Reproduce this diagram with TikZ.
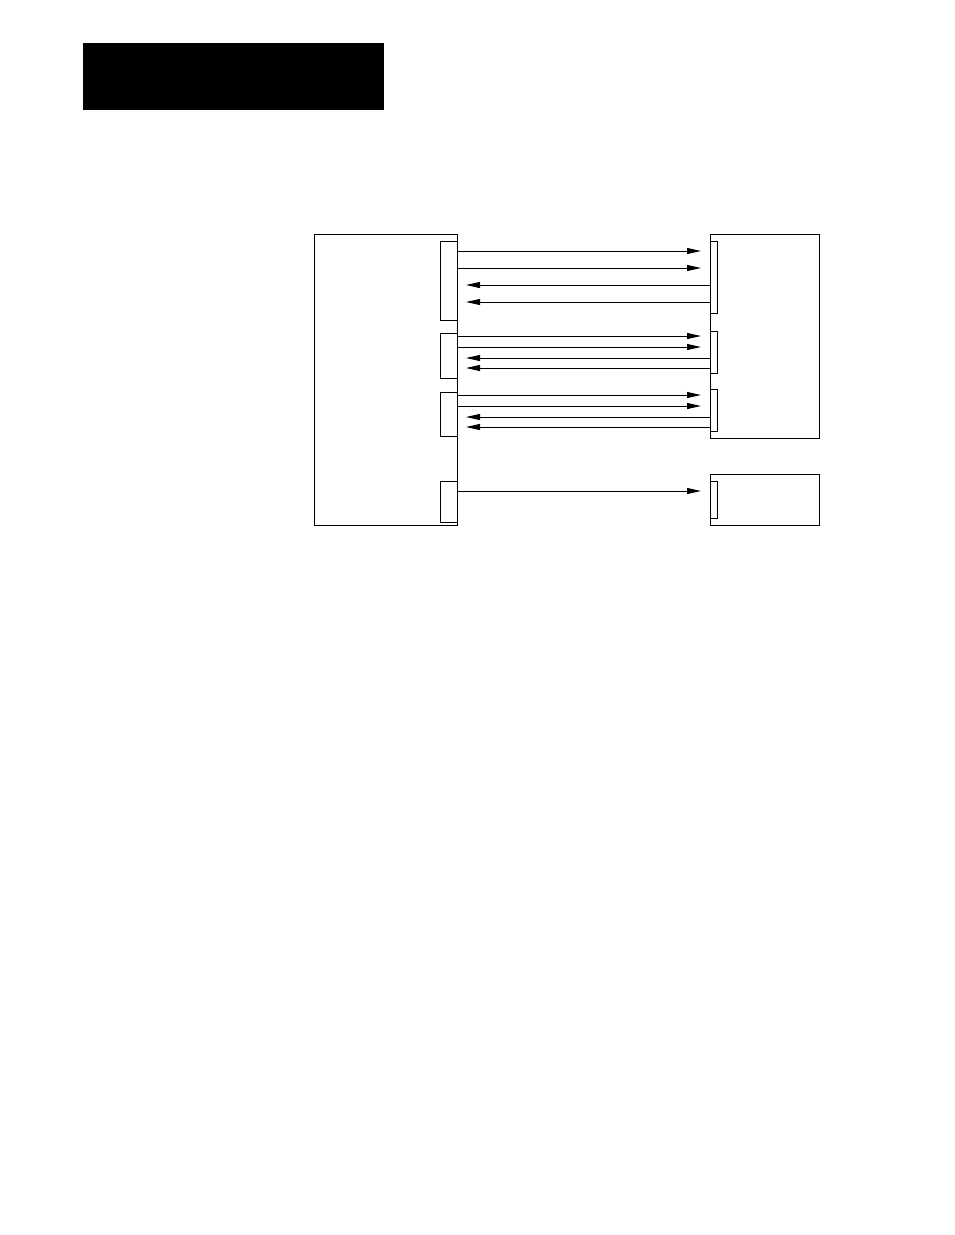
\documentclass[tikz,border=0pt]{standalone}
\usepackage{tikz}
\usetikzlibrary{arrows.meta}

\begin{document}
\begin{tikzpicture}[x=1pt,y=-1pt,
	box/.style={draw,line width=1pt,rectangle,inner sep=0pt,outer sep=0pt,anchor=north west},
	sig/.style={line width=1pt,-{Triangle[length=14pt,width=6pt]},shorten >=9pt}]
	\useasboundingbox (0,0) rectangle (954,1235);
	\node[box,fill=black,minimum width=300,minimum height=66] (head) at (83,43){};
	\node[box,minimum width=143,minimum height=291] (ctrl) at (314,234){};
	\node[box,minimum width=17,minimum height=79] (lp1) at (440,241){};
	\node[box,minimum width=17,minimum height=45] (lp2) at (440,333){};
	\node[box,minimum width=17,minimum height=44] (lp3) at (440,392){};
	\node[box,minimum width=17,minimum height=41] (lp4) at (440,481){};
	\node[box,minimum width=109,minimum height=204] (dev) at (710,234){};
	\node[box,minimum width=7,minimum height=72] (rp1) at (710,241){};
	\node[box,minimum width=7,minimum height=42] (rp2) at (710,331){};
	\node[box,minimum width=7,minimum height=42] (rp3) at (710,389){};
	\node[box,minimum width=109,minimum height=51] (aux) at (710,474){};
	\node[box,minimum width=7,minimum height=37] (rp4) at (710,481){};

	\draw[sig] (lp1.east |- 0,251) -- (rp1.west |- 0,251);
	\draw[sig] (lp1.east |- 0,268) -- (rp1.west |- 0,268);
	\draw[sig] (rp1.west |- 0,285) -- (lp1.east |- 0,285);
	\draw[sig] (rp1.west |- 0,302) -- (lp1.east |- 0,302);

	\draw[sig] (lp2.east |- 0,336) -- (rp2.west |- 0,336);
	\draw[sig] (lp2.east |- 0,347) -- (rp2.west |- 0,347);
	\draw[sig] (rp2.west |- 0,358) -- (lp2.east |- 0,358);
	\draw[sig] (rp2.west |- 0,368) -- (lp2.east |- 0,368);

	\draw[sig] (lp3.east |- 0,395) -- (rp3.west |- 0,395);
	\draw[sig] (lp3.east |- 0,406) -- (rp3.west |- 0,406);
	\draw[sig] (rp3.west |- 0,417) -- (lp3.east |- 0,417);
	\draw[sig] (rp3.west |- 0,427) -- (lp3.east |- 0,427);

	\draw[sig] (lp4.east |- 0,491) -- (rp4.west |- 0,491);
\end{tikzpicture}
\end{document}
